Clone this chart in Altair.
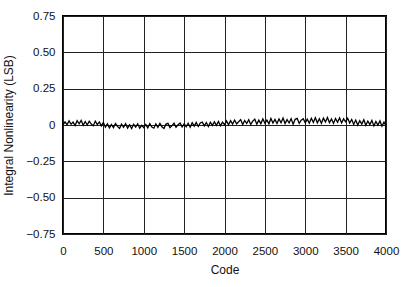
import altair as alt
import pandas as pd

codes = list(range(0, 4001, 25))
inl = [
    0.000, 0.022, 0.002, 0.028, 0.005, 0.020, -0.004, 0.030, 0.008, 0.032, -0.002, 0.024, 0.000, 0.026, 0.006, -0.005, 0.027, 0.003, 0.021, -0.006, 0.018,
    -0.015, 0.008, -0.020, 0.004, -0.018, 0.010, -0.010, -0.024, 0.006, -0.016, 0.009, -0.021, 0.002, -0.025, 0.005, -0.014, 0.008, -0.022, -0.002, -0.018,
    0.004, -0.020, 0.010, -0.014, -0.022, 0.008, -0.016, 0.012, -0.012, -0.024, 0.006, 0.011, -0.018, -0.004, 0.013, -0.016, 0.002, 0.014, -0.013, 0.007,
    -0.012, 0.012, -0.016, 0.016, -0.008, 0.018, -0.010, 0.014, 0.020, -0.006, 0.017, -0.011, 0.019, -0.003, 0.022, -0.002, 0.024, -0.005, 0.020, 0.002,
    0.028, 0.002, 0.030, 0.006, 0.034, 0.008, 0.022, 0.037, 0.003, 0.031, 0.010, 0.036, 0.004, 0.027, 0.040, 0.006, 0.033, 0.009, 0.042, 0.012,
    0.034, 0.008, 0.045, 0.014, 0.038, 0.010, 0.041, 0.016, 0.048, 0.010, 0.037, 0.014, 0.044, 0.006, 0.039, 0.046, 0.012, 0.033, 0.043, 0.015,
    0.040, 0.012, 0.046, 0.018, 0.050, 0.015, 0.043, 0.012, 0.047, 0.020, 0.052, 0.016, 0.041, 0.011, 0.045, 0.019, 0.049, 0.014, 0.042, 0.022,
    0.046, 0.014, 0.038, 0.004, 0.034, 0.000, 0.030, 0.006, 0.036, -0.002, 0.027, 0.003, 0.032, -0.006, 0.025, 0.000, 0.028, -0.008, 0.020, -0.004,
]
x_ticks = [0, 500, 1000, 1500, 2000, 2500, 3000, 3500, 4000]
y_ticks = [-0.75, -0.5, -0.25, 0, 0.25, 0.5, 0.75]

df = pd.DataFrame({"code": codes, "inl": inl})

font = "Liberation Sans"

chart = alt.Chart(df).mark_line(color="black", strokeWidth=1.3).encode(
    x=alt.X("code:Q", scale=alt.Scale(domain=[0, 4000], nice=False),
            axis=alt.Axis(values=x_ticks, title="Code", grid=True, ticks=False,
                          domain=False, labelPadding=11, titlePadding=8,
                          labelFlush=False, format="d")),
    y=alt.Y("inl:Q", scale=alt.Scale(domain=[-0.75, 0.75], nice=False),
            axis=alt.Axis(values=y_ticks, title="Integral Nonlinearity (LSB)",
                          grid=True, ticks=False, domain=False, labelPadding=8,
                          titlePadding=10, labelFlush=False,
                          labelExpr="datum.value == 0 ? '0' : format(datum.value, '.2f')")),
).properties(
    width=323, height=218,
    padding={"left": 63, "top": 16, "right": 20, "bottom": 53},
    autosize=alt.AutoSizeParams(type="none"),
).configure_view(
    stroke="black", strokeWidth=2
).configure_axis(
    gridColor="#222", gridWidth=1, gridOpacity=1,
    labelFont=font, titleFont=font, labelFontSize=11.5, titleFontSize=12,
    labelColor="#111", titleColor="#111", titleFontWeight="normal",
)

chart.save("out.html", embed_options={"renderer": "svg", "actions": False})
